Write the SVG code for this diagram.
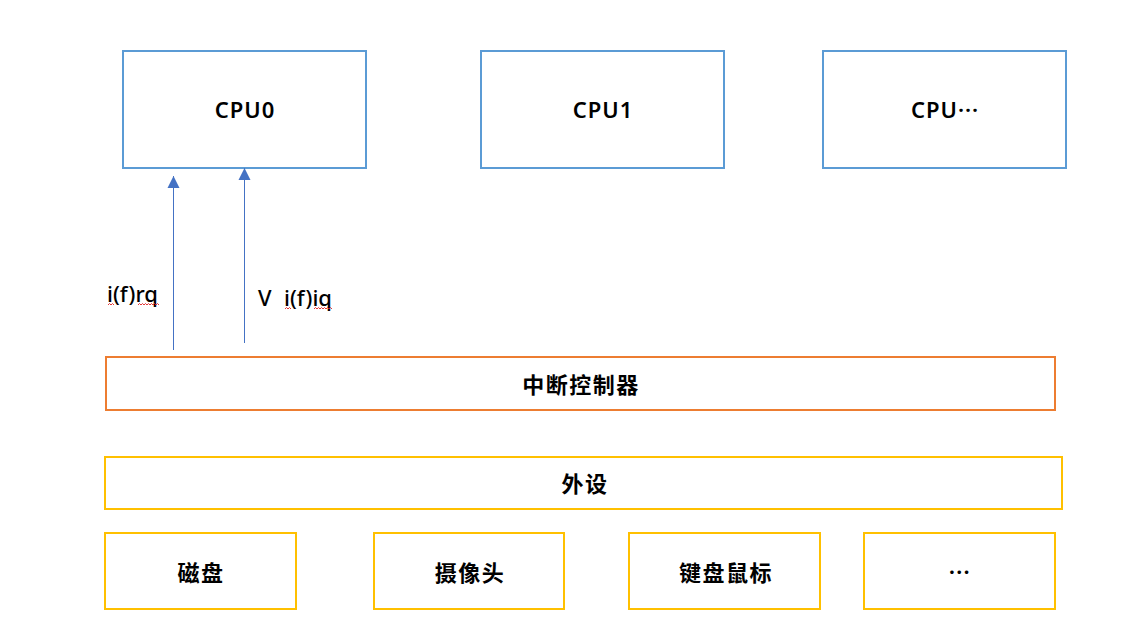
<svg xmlns="http://www.w3.org/2000/svg" width="1147" height="629" viewBox="0 0 1147 629">
<style>
  .cpu { fill: #fff; stroke: #5B9BD5; stroke-width: 2; }
  .ctl { fill: #fff; stroke: #ED7D31; stroke-width: 2; }
  .dev { fill: #fff; stroke: #FFC000; stroke-width: 2; }
  .t { font-family: "Noto Sans", "Noto Sans CJK SC", sans-serif; font-size: 22px; font-weight: 600; fill: #000; text-anchor: middle; letter-spacing: 1px; }
  .c { font-family: "Noto Sans CJK SC", "Noto Sans", sans-serif; font-size: 22px; font-weight: 700; fill: #000; text-anchor: middle; letter-spacing: 1.5px; }
  .lbl { font-family: "Noto Sans", sans-serif; font-size: 22px; font-weight: 500; fill: #000; }
  .arr { stroke: #4472C4; stroke-width: 1; fill: none; marker-end: url(#ah); }
  .wave { stroke: #E02020; stroke-width: 0.9; fill: none; }
</style>
<defs>
  <marker id="ah" markerUnits="userSpaceOnUse" markerWidth="14" markerHeight="14" viewBox="0 0 14 14" refX="13" refY="7" orient="auto">
    <path d="M1,1 L13,7 L1,13 Z" fill="#4472C4"/>
  </marker>
</defs>
<rect width="1147" height="629" fill="#fff"/>
<g id="cpu0"><rect class="cpu" x="123" y="51" width="243" height="117"/><text class="t" x="245" y="118">CPU0</text></g>
<g id="cpu1"><rect class="cpu" x="481" y="51" width="243" height="117"/><text class="t" x="603" y="118">CPU1</text></g>
<g id="cpun"><rect class="cpu" x="823" y="51" width="243" height="117"/><text class="t" x="945" y="118">CPU···</text></g>
<g id="controller"><rect class="ctl" x="106" y="357" width="949" height="53"/><text class="c" x="581" y="393">中断控制器</text></g>
<g id="peripheral"><rect class="dev" x="105" y="457" width="957" height="52"/><text class="c" x="585" y="492">外设</text></g>
<g id="disk"><rect class="dev" x="105" y="533" width="191" height="76"/><text class="c" x="201" y="581">磁盘</text></g>
<g id="camera"><rect class="dev" x="374" y="533" width="190" height="76"/><text class="c" x="470" y="581">摄像头</text></g>
<g id="keyboard"><rect class="dev" x="629" y="533" width="191" height="76"/><text class="c" x="726" y="581">键盘鼠标</text></g>
<g id="more"><rect class="dev" x="864" y="533" width="191" height="76"/><text class="c" x="960" y="580">…</text></g>
<g id="connectors">
  <line class="arr" x1="173.5" y1="350" x2="173.5" y2="176"/>
  <line class="arr" x1="244.5" y1="343" x2="244.5" y2="168"/>
  <text class="lbl" x="107" y="302">i(f)rq</text>
  <text class="lbl" x="258" y="306">V</text>
  <text class="lbl" x="284" y="306">i(f)iq</text>
  <path class="wave" d="M108,305 l1.5,-1.5 l1.5,1.5 l1.5,-1.5 l1.5,1.5"/>
  <path class="wave" d="M138,305 l1.5,-1.5 l1.5,1.5 l1.5,-1.5 l1.5,1.5 l1.5,-1.5 l1.5,1.5 l1.5,-1.5 l1.5,1.5 l1.5,-1.5 l1.5,1.5 l1.5,-1.5 l1.5,1.5 l1.5,-1.5 l1.5,1.5"/>
  <path class="wave" d="M285,309 l1.5,-1.5 l1.5,1.5 l1.5,-1.5 l1.5,1.5"/>
  <path class="wave" d="M314,309 l1.5,-1.5 l1.5,1.5 l1.5,-1.5 l1.5,1.5 l1.5,-1.5 l1.5,1.5 l1.5,-1.5 l1.5,1.5 l1.5,-1.5 l1.5,1.5 l1.5,-1.5 l1.5,1.5"/>
</g>
</svg>
